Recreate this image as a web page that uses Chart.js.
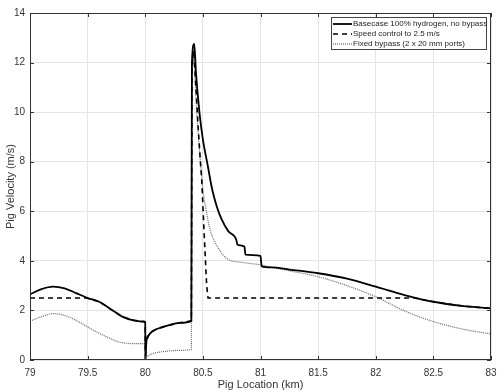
<!DOCTYPE html>
<html>
<head>
<meta charset="utf-8">
<script src="https://cdn.jsdelivr.net/npm/chart.js@4/dist/chart.umd.min.js"></script>
<style>
  html, body { margin: 0; padding: 0; background: #fff; }
  #wrap { width: 504px; height: 392px; }
</style>
</head>
<body>
<div id="wrap"><canvas id="chart"></canvas></div>
<script>
// Basecase 100% hydrogen, no bypass
const baseX = [79, 79.1, 79.2, 79.3, 79.4, 79.5, 79.6, 79.7, 79.75, 79.8, 79.9, 79.99, 80.0, 80.001,
  80.01, 80.03, 80.06, 80.1, 80.2, 80.3, 80.4, 80.405, 80.425, 80.44, 80.47, 80.5, 80.54, 80.58,
  80.62, 80.66, 80.72, 80.79, 80.8, 80.86, 80.87, 81.0, 81.01, 81.1, 81.25, 81.5, 81.75, 82, 82.25,
  82.5, 82.75, 83];
const baseY = [2.65, 2.86, 2.96, 2.89, 2.7, 2.5, 2.35, 2.05, 1.9, 1.75, 1.6, 1.55, 1.52, 0,
  0.75, 1.0, 1.15, 1.25, 1.4, 1.5, 1.58, 12.0, 12.75, 11.6, 10.0, 8.9, 7.9, 6.9,
  6.2, 5.7, 5.2, 4.85, 4.65, 4.58, 4.25, 4.2, 3.78, 3.74, 3.65, 3.5, 3.28, 2.96, 2.62,
  2.35, 2.18, 2.08];

// Speed control to 2.5 m/s
const speedX = [79, 79.5, 79.6, 79.7, 79.75, 79.8, 79.9, 79.99, 80.0, 80.001,
  80.01, 80.03, 80.06, 80.1, 80.2, 80.3, 80.4, 80.405, 80.42, 80.44, 80.46, 80.48, 80.49, 80.51,
  80.533, 80.545, 82.34, 82.5, 82.75, 83];
const speedY = [2.5, 2.5, 2.35, 2.05, 1.9, 1.75, 1.6, 1.55, 1.52, 0,
  0.75, 1.0, 1.15, 1.25, 1.4, 1.5, 1.58, 11.8, 12.5, 11.0, 9.3, 7.9, 7.3, 5.2,
  3.0, 2.5, 2.5, 2.35, 2.18, 2.08];

// Fixed bypass (2 x 20 mm ports)
const bypassX = [79, 79.1, 79.2, 79.3, 79.4, 79.5, 79.6, 79.7, 79.75, 79.8, 79.9, 79.99, 80.0, 80.001,
  80.01, 80.03, 80.06, 80.1, 80.2, 80.3, 80.4, 80.405, 80.42, 80.44, 80.47, 80.5, 80.53, 80.56,
  80.6, 80.65, 80.7, 80.75, 80.82, 80.9, 81.0, 81.1, 81.25, 81.5, 81.75, 82, 82.25, 82.5, 82.75, 83];
const bypassY = [1.57, 1.75, 1.87, 1.8, 1.6, 1.34, 1.08, 0.86, 0.76, 0.7, 0.66, 0.66, 0.66, 0,
  0.1, 0.18, 0.25, 0.3, 0.36, 0.39, 0.42, 11.6, 12.2, 10.5, 8.5, 6.9, 6.0, 5.3,
  4.8, 4.4, 4.12, 4.0, 3.95, 3.9, 3.84, 3.73, 3.6, 3.36, 3.0, 2.55, 1.98, 1.55, 1.25, 1.05];

const xTicks = [79, 79.5, 80, 80.5, 81, 81.5, 82, 82.5, 83];
const yTicks = [0, 2, 4, 6, 8, 10, 12, 14];

const toPoints = (xs, ys) => xs.map((x, i) => ({ x: x, y: ys[i] }));

const axisColor = '#333333';
const gridColor = '#e4e4e4';
const fontFamily = '"Liberation Sans", Arial, sans-serif';

// draws the matlab style box, inward ticks and the boxed legend
const boxPlugin = {
  id: 'boxPlugin',
  afterDraw(chart) {
    const ctx = chart.ctx;
    const a = chart.chartArea;
    const xs = chart.scales.x;
    const ys = chart.scales.y;
    ctx.save();
    ctx.strokeStyle = axisColor;
    ctx.lineWidth = 1;
    ctx.strokeRect(a.left + 0.5, a.top + 0.5, a.right - a.left - 1, a.bottom - a.top - 1);
    ctx.beginPath();
    xTicks.forEach(t => {
      const px = Math.round(xs.getPixelForValue(t)) + 0.5;
      ctx.moveTo(px, a.bottom); ctx.lineTo(px, a.bottom - 4);
      ctx.moveTo(px, a.top); ctx.lineTo(px, a.top + 4);
    });
    yTicks.forEach(t => {
      const py = Math.round(ys.getPixelForValue(t)) + 0.5;
      ctx.moveTo(a.left, py); ctx.lineTo(a.left + 4, py);
      ctx.moveTo(a.right, py); ctx.lineTo(a.right - 4, py);
    });
    ctx.stroke();

    // legend
    const lx = 331, ly = 17, lw = 155, lh = 32;
    ctx.fillStyle = '#fff';
    ctx.fillRect(lx, ly, lw, lh);
    ctx.strokeStyle = '#444';
    ctx.strokeRect(lx + 0.5, ly + 0.5, lw, lh);
    ctx.font = '8px ' + fontFamily;
    ctx.textBaseline = 'middle';
    chart.data.datasets.forEach((ds, i) => {
      const y = ly + 7 + i * 10;
      ctx.strokeStyle = ds.borderColor;
      ctx.lineWidth = ds.borderWidth;
      ctx.setLineDash(ds.borderDash || []);
      ctx.beginPath();
      ctx.moveTo(lx + 2, y); ctx.lineTo(lx + 21, y);
      ctx.stroke();
      ctx.setLineDash([]);
      ctx.fillStyle = '#222';
      ctx.fillText(ds.label, lx + 22, y);
    });
    ctx.restore();
  }
};

new Chart(document.getElementById('chart'), {
  type: 'line',
  data: {
    datasets: [
      {
        label: 'Basecase 100% hydrogen, no bypass',
        data: toPoints(baseX, baseY),
        borderColor: '#000',
        borderWidth: 1.8,
        pointRadius: 0,
        cubicInterpolationMode: 'monotone'
      },
      {
        label: 'Speed control to 2.5 m/s',
        data: toPoints(speedX, speedY),
        borderColor: '#000',
        borderWidth: 1.6,
        borderDash: [5, 4],
        pointRadius: 0,
        tension: 0
      },
      {
        label: 'Fixed bypass (2 x 20 mm ports)',
        data: toPoints(bypassX, bypassY),
        borderColor: '#666',
        borderWidth: 1.2,
        borderDash: [1, 1],
        pointRadius: 0,
        cubicInterpolationMode: 'monotone'
      }
    ]
  },
  options: {
    responsive: true,
    maintainAspectRatio: false,
    animation: false,
    layout: { padding: { top: 13, right: 13, left: 0, bottom: 0 } },
    plugins: {
      legend: { display: false },
      tooltip: { enabled: false }
    },
    scales: {
      x: {
        type: 'linear',
        min: 79,
        max: 83,
        afterBuildTicks: scale => { scale.ticks = xTicks.map(v => ({ value: v })); },
        afterFit: scale => { scale.height = 32; },
        grid: { color: gridColor, drawTicks: false },
        border: { display: false },
        ticks: {
          color: axisColor,
          font: { family: fontFamily, size: 10 },
          padding: 7,
          maxRotation: 0,
          callback: v => String(v)
        },
        title: {
          display: true,
          text: 'Pig Location (km)',
          color: axisColor,
          font: { family: fontFamily, size: 11 },
          padding: { top: 1, bottom: 0 }
        }
      },
      y: {
        min: 0,
        max: 14,
        afterBuildTicks: scale => { scale.ticks = yTicks.map(v => ({ value: v })); },
        afterFit: scale => { scale.width = 30; },
        grid: { color: gridColor, drawTicks: false },
        border: { display: false },
        ticks: {
          color: axisColor,
          font: { family: fontFamily, size: 10 },
          padding: 5
        },
        title: {
          display: true,
          text: 'Pig Velocity (m/s)',
          color: axisColor,
          font: { family: fontFamily, size: 11 },
          padding: { top: 4, bottom: 2 }
        }
      }
    }
  },
  plugins: [boxPlugin]
});
</script>
</body>
</html>
